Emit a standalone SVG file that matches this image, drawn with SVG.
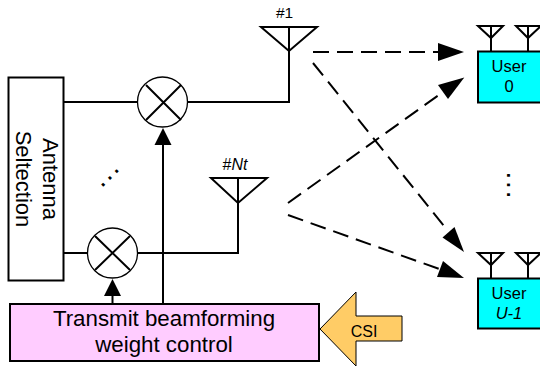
<svg xmlns="http://www.w3.org/2000/svg" width="540" height="368" viewBox="0 0 540 368">
<style>
text{font-family:"Liberation Sans",Arial,sans-serif;fill:#000}
.l{fill:none;stroke:#000;stroke-width:2}
.t{fill:none;stroke:#000;stroke-width:2;stroke-linejoin:miter}
.d{fill:none;stroke:#000;stroke-width:2;stroke-dasharray:16 8}
.c{fill:#fff;stroke:#000;stroke-width:1.3}
.u{fill:#00ffff;stroke:#000;stroke-width:2}
.ar{fill:#000}
.dots{font-size:28px;letter-spacing:1.8px}
</style>
<rect width="540" height="368" fill="#fff"/>
<g id="connectors">
<path class="l" d="M63 102H137M187 102H289V51"/>
<path class="l" d="M63 253H87M137 253H238V203"/>
<path class="l" d="M163 304V145"/>
<path class="ar" d="M163 128L171.500 145H154.500Z"/>
<path class="l" d="M112.500 304V292"/>
<path class="ar" d="M112.500 279L121 296H104Z"/>
<path class="d" d="M313 52H440"/><path class="ar" d="M464 52L438 43V61Z"/>
<path class="d" d="M313 63L448 231"/><path class="ar" d="M464 252L442.500 237.500L454.500 227Z"/>
<path class="d" d="M288 203L443 92"/><path class="ar" d="M464.300 77.500L438 85L448 99Z"/>
<path class="d" d="M288 215L442 270"/><path class="ar" d="M464 278L437 277L443 261Z"/>
</g>
<g id="antenna-selection"><rect x="8.500" y="77.500" width="55" height="203" fill="#fff" stroke="#000" stroke-width="2"/>
<text font-size="22" text-anchor="middle" transform="translate(36 179) rotate(90)"><tspan x="0" y="-7">Antenna</tspan><tspan x="0" y="20">Seltection</tspan></text></g>
<g id="mixer-1"><circle class="c" cx="162.500" cy="102" r="25"/><path class="l" d="M146 85L181 120M181 85L146 120"/></g>
<g id="mixer-2"><circle class="c" cx="112.500" cy="253" r="25"/><path class="l" d="M95 236L130 270M130 236L95 270"/></g>
<g id="antenna-1"><path class="t" d="M261 27H317L289 51ZM289 27V51"/><text x="284.500" y="18" font-size="15.500" text-anchor="middle">#1</text></g>
<g id="antenna-nt"><path class="t" d="M211 178H267L238 203ZM238 178V203"/><text x="235" y="170" font-size="16" text-anchor="middle">#<tspan font-style="italic">Nt</tspan></text></g>
<g id="dots-left"><text class="dots" transform="translate(110 178) rotate(-45)" x="-13.500" y="1.400">...</text></g>
<g id="dots-right"><text class="dots" transform="translate(508 185) rotate(90)" x="-13.500" y="1.400">...</text></g>
<g id="user-0"><path class="t" d="M478 26H503L491 38ZM491 26V51M516 26H541L528 38ZM528 26V51"/><rect class="u" x="478" y="51.500" width="70" height="51"/>
<text x="509" y="72" font-size="16.500" text-anchor="middle">User</text><text x="509" y="92" font-size="16.500" text-anchor="middle">0</text></g>
<g id="user-u1"><path class="t" d="M478 253H503L491 265ZM491 253V278M516 253H541L528 265ZM528 253V278"/><rect class="u" x="478" y="278.500" width="70" height="50"/>
<text x="509" y="299" font-size="16.500" text-anchor="middle">User</text><text x="509" y="319" font-size="16.500" font-style="italic" text-anchor="middle">U-1</text></g>
<g id="weight-control"><rect x="10" y="304" width="309" height="57" fill="#ffccff" stroke="#000" stroke-width="2"/>
<text x="164" y="326" font-size="22.300" text-anchor="middle">Transmit beamforming</text><text x="164" y="352" font-size="22.300" text-anchor="middle">weight control</text></g>
<g id="csi"><path d="M320 329L356 292V316H402V341H356V366Z" fill="#ffcc66" stroke="#000" stroke-width="1"/><text x="364" y="337" font-size="16" text-anchor="middle">CSI</text></g>
</svg>
